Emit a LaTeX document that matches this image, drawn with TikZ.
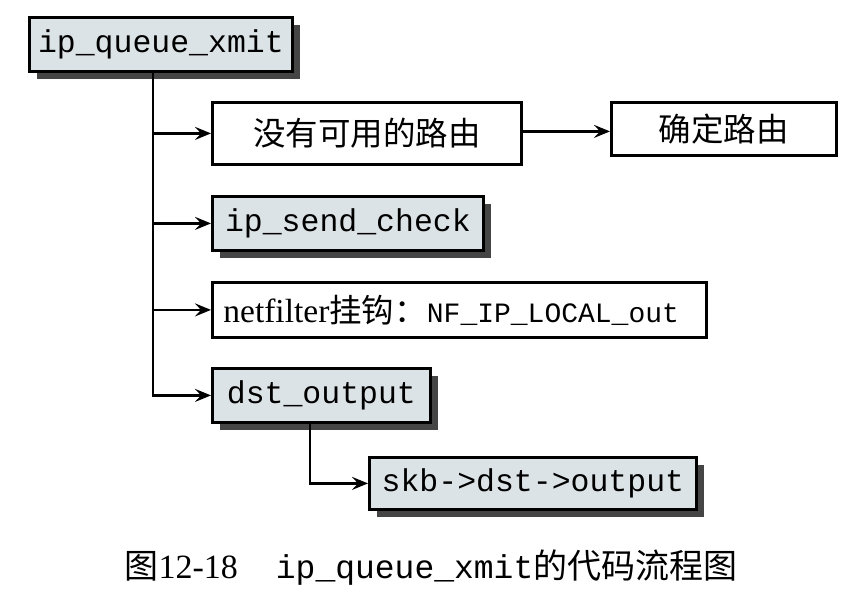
\documentclass[tikz,border=0pt]{standalone}
\usepackage{fontspec}
\setmainfont{Liberation Serif}
\setmonofont{Liberation Mono}
\newfontfamily\cjk{Noto Sans CJK SC}
\usetikzlibrary{arrows.meta,shadows,calc}
\definecolor{boxfill}{HTML}{DCE3E6}
\definecolor{shadowc}{HTML}{454545}
\begin{document}
\begin{tikzpicture}[x=1pt,y=-1pt,
  base/.style={draw=black,line width=2.8pt,inner sep=0pt,anchor=north west,
    font=\fontsize{31.5}{36}\selectfont},
  graybox/.style={base,fill=boxfill,font=\ttfamily\fontsize{31.5}{36}\selectfont,
    drop shadow={shadow xshift=8pt,shadow yshift=-8pt,fill=shadowc,opacity=1}},
  whitebox/.style={base,fill=white},
  arr/.style={line width=2.8pt,-{Stealth[length=16pt,width=13pt,inset=6pt]}},
  ln/.style={line width=2.8pt}]
\useasboundingbox (0,0) rectangle (856,603);
\node[graybox,minimum width=263pt,minimum height=54pt] (q) at (28,16) {ip\_queue\_xmit};
\node[whitebox,minimum width=309pt,minimum height=62pt] (nr) at (211,101) {\cjk\fontsize{32.5}{36}\selectfont 没有可用的路由};
\node[whitebox,minimum width=225pt,minimum height=53pt] (rt) at (610,101) {\cjk\fontsize{32.5}{36}\selectfont 确定路由};
\node[graybox,minimum width=271pt,minimum height=54pt] (sc) at (211,195) {ip\_send\_check};
\node[whitebox,minimum width=494pt,minimum height=55pt,inner xsep=11pt,text width=472pt,align=left,
  font=\fontsize{33.5}{36}\selectfont] (nf) at (211,281)
  {netfilter{\cjk\fontsize{32.5}{36}\selectfont 挂钩：}{\ttfamily\fontsize{28}{32}\selectfont NF\_IP\_LOCAL\_out}};
\node[graybox,minimum width=218pt,minimum height=54pt] (dst) at (211,367) {dst\_output};
\node[graybox,minimum width=327pt,minimum height=52pt] (skb) at (368,456) {skb->dst->output};
\coordinate (t0) at ($(q.south west)+(125,0)$);
\coordinate (t1) at ($(dst.south west)+(99,0)$);
\draw[ln] (t0) -- (t0 |- dst.west);
\draw[arr] (t0) |- (nr.west);
\draw[arr] (t0) |- (sc.west);
\draw[arr] (t0) |- (nf.west);
\draw[arr] (t0) |- (dst.west);
\draw[arr] (t1) |- (skb.west);
\draw[arr] ($(nr.east)+(0,-2)$) -- ($(rt.west |- nr.east)+(0,-2)$);
\node[font=\fontsize{34}{38}\selectfont,inner sep=0pt] (cap) at (431,568)
  {{\cjk 图}12-18\hspace{38pt}{\ttfamily\fontsize{33}{38}\selectfont ip\_queue\_xmit}{\cjk 的代码流程图}};
\end{tikzpicture}
\end{document}
